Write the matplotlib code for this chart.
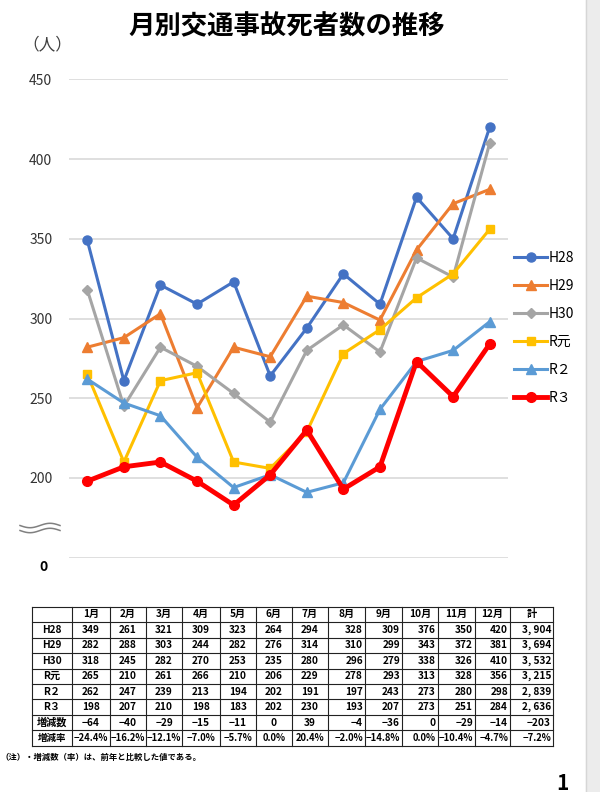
import numpy as np
import matplotlib
matplotlib.use('Agg')
import matplotlib.pyplot as plt
from matplotlib.patches import Rectangle

plt.rcParams['font.family'] = ['Noto Sans CJK JP', 'DejaVu Sans']

# data
months = ['1月', '2月', '3月', '4月', '5月', '6月', '7月', '8月', '9月', '10月', '11月', '12月']
h28 = [349, 261, 321, 309, 323, 264, 294, 328, 309, 376, 350, 420]
h29 = [282, 288, 303, 244, 282, 276, 314, 310, 299, 343, 372, 381]
h30 = [318, 245, 282, 270, 253, 235, 280, 296, 279, 338, 326, 410]
r1 = [265, 210, 261, 266, 210, 206, 229, 278, 293, 313, 328, 356]
r2 = [262, 247, 239, 213, 194, 202, 191, 197, 243, 273, 280, 298]
r3 = [198, 207, 210, 198, 183, 202, 230, 193, 207, 273, 251, 284]
names = ['H28', 'H29', 'H30', 'R元', 'R２', 'R３']
table_names = ['H28', 'H29', 'H30', 'R元', 'R２', 'R３']

series = [h28, h29, h30, r1, r2, r3]
colors = ['#4472C4', '#ED7D31', '#A5A5A5', '#FFC000', '#5B9BD5', '#FF0000']
markers = ['o', '^', 'D', 's', '^', 'o']
widths = [2.2, 2.2, 2.2, 2.2, 2.2, 3.5]
msizes = [6.5, 7, 5.5, 6, 7, 7]

fig = plt.figure(figsize=(6, 7.92), dpi=100)

# overlay in pixel coords for decorations and the table
ov = fig.add_axes([0, 0, 1, 1])
ov.set_xlim(0, 600)
ov.set_ylim(792, 0)
ov.axis('off')

ax = fig.add_axes([69 / 600, 1 - 557.7 / 792, 439 / 600, (557.7 - 79.3) / 792])
x = np.arange(1, 13)
for vals, name, c, m, lw, ms in zip(series, names, colors, markers, widths, msizes):
    ax.plot(x, vals, color=c, marker=m, lw=lw, ms=ms, label=name, clip_on=False)

ax.set_xlim(0.5, 12.5)
ax.set_ylim(150, 450)
ax.set_xticks([])
ax.set_yticks([200, 250, 300, 350, 400, 450])
ax.set_yticks([150], minor=True)
ax.grid(axis='y', which='both', color='#d9d9d9', lw=1.2)
ax.set_axisbelow(True)
for s in ax.spines.values():
    s.set_visible(False)
ax.tick_params(axis='y', which='both', length=0, pad=12, labelsize=10, labelcolor='#333333')
ax.annotate('0', xy=(0, 150), xycoords=('axes fraction', 'data'), xytext=(-18, -7),
            textcoords='offset points', ha='center', va='center', fontsize=10, fontweight='bold')

ax.legend(loc='upper left', bbox_to_anchor=(514 / 600, 1 - 251 / 792), bbox_transform=fig.transFigure,
          frameon=False, fontsize=10, handlelength=2.4, handletextpad=0.1, labelspacing=1.0,
          borderpad=0, borderaxespad=0)

fig.text(287 / 600, 1 - 27 / 792, '月別交通事故死者数の推移', ha='center', va='center',
         fontsize=19, fontweight='bold')
fig.text(47 / 600, 1 - 45 / 792, '（人）', ha='center', va='center', fontsize=12, color='#404040')

# axis break mark
wx = np.linspace(20, 60, 60)
for off in (-2.5, 2.5):
    ov.plot(wx, 528 + off + 2.2 * np.sin((wx - 20) / 40 * 2 * np.pi), color='#808080', lw=1.1)

# table
col_edges = [32, 72, 110, 146, 182, 220, 256, 292, 328, 365, 402, 438, 475, 510, 553]
row_top, row_h = 606.7, 15.45
diff = [b - a for a, b in zip(r2, r3)] + [sum(r3) - sum(r2)]
rate = [(b - a) / a * 100 for a, b in zip(r2 + [sum(r2)], r3 + [sum(r3)])]

rows = [[''] + months + ['計']]
for nm, vals in zip(table_names, series):
    rows.append([nm] + [str(v) for v in vals] + [f'{sum(vals):,}'.replace(',', ', ')])
rows.append(['増減数'] + [str(d).replace('-', '−') for d in diff])
rows.append(['増減率'] + [f'{r:.1f}%'.replace('-', '−') if abs(r) >= 0.05 else '0.0%' for r in rate])

nrows = len(rows)
for i in range(nrows + 1):
    ov.plot([col_edges[0], col_edges[-1]], [row_top + i * row_h] * 2, color='#222222', lw=0.8)
for xe in col_edges:
    ov.plot([xe, xe], [row_top, row_top + nrows * row_h], color='#222222', lw=0.8)

for i, row in enumerate(rows):
    yc = row_top + (i + 0.5) * row_h
    fs = 6.8 if i == nrows - 1 else 7.3
    for j, txt in enumerate(row):
        x0, x1 = col_edges[j], col_edges[j + 1]
        if i == 0 or j == 0 or j <= 7:
            ov.text((x0 + x1) / 2, yc, txt, ha='center', va='center', fontsize=fs, fontweight='bold')
        else:
            ov.text(x1 - 2, yc, txt, ha='right', va='center', fontsize=fs, fontweight='bold')

ov.text(0, 757, '（注）・増減数（率）は、前年と比較した値である。', ha='left', va='center',
        fontsize=6, fontweight='bold')
ov.text(562, 783, '1', ha='center', va='center', fontsize=15, fontweight='bold')

ov.add_patch(Rectangle((586, 0), 14, 792, color='#ececec', zorder=0))
ov.plot([586, 586], [0, 792], color='#d6d6d6', lw=1)

fig.savefig('out.png', dpi=100)
